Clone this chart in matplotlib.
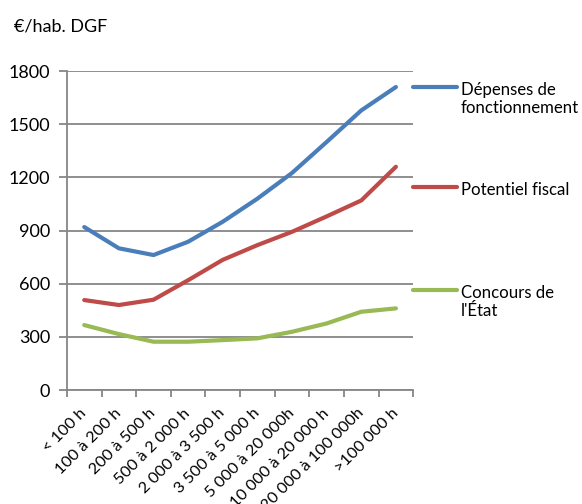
import matplotlib.pyplot as plt
from matplotlib.lines import Line2D
from matplotlib.transforms import ScaledTranslation

plt.rcParams["font.family"] = ["Lato", "DejaVu Sans"]

# Strates de population
strates = ["< 100 h", "100 à 200 h", "200 à 500 h", "500 à 2 000 h",
           "2 000 à 3 500 h", "3 500 à 5 000 h", "5 000 à 20 000h",
           "10 000 à 20 000 h", "20 000 à 100 000h", ">100 000 h"]

# Montants en €/hab. DGF
depenses = [920, 800, 762, 837, 950, 1080, 1225, 1400, 1578, 1710]
potentiel = [508, 480, 510, 620, 735, 818, 893, 980, 1070, 1260]
concours = [367, 316, 273, 273, 282, 292, 329, 376, 442, 461]

series = [
    ("Dépenses de\nfonctionnement", depenses, "#4A7EBB"),
    ("Potentiel fiscal", potentiel, "#BE4B48"),
    ("Concours de\nl'État", concours, "#98B954"),
]

grid_col = "#868686"

fig = plt.figure(figsize=(5.82, 5.04), dpi=100)
ax = fig.add_axes([0.115, 0.226, 0.595, 0.633])

x = range(len(strates))
for label, vals, col in series:
    ax.plot(x, vals, color=col, lw=3, solid_capstyle="round")

ax.set_xlim(-0.5, len(strates) - 0.5)
ax.set_ylim(0, 1800)
ax.set_yticks(range(0, 1801, 300))
ax.yaxis.grid(True, color=grid_col, lw=1.3)
ax.set_axisbelow(True)

ax.set_xticks(list(x))
ax.set_xticklabels(strates, rotation=45, ha="right", va="center",
                   rotation_mode="anchor", fontsize=11.7)
shift = ScaledTranslation(3 / 100, 0, fig.dpi_scale_trans)
for lab in ax.get_xticklabels():
    lab.set_transform(lab.get_transform() + shift)
ax.set_xticks([i - 0.5 for i in range(len(strates) + 1)], minor=True)
ax.tick_params(axis="x", which="major", length=0, pad=15)
ax.tick_params(axis="x", which="minor", length=5, color=grid_col, width=1.3)
ax.tick_params(axis="y", length=6, color=grid_col, width=1.3, labelsize=13, pad=6)

for s in ["top", "right"]:
    ax.spines[s].set_visible(False)
for s in ["left", "bottom"]:
    ax.spines[s].set_color(grid_col)
    ax.spines[s].set_linewidth(1.3)

fig.text(14 / 582, 1 - 27 / 504, "€/hab. DGF", fontsize=13, va="center", ha="left")

# Légende à droite du graphique
leg_y = [87, 187, 290]
for (label, vals, col), py in zip(series, leg_y):
    yf = 1 - py / 504
    fig.add_artist(Line2D([413 / 582, 457 / 582], [yf, yf], color=col, lw=3,
                          solid_capstyle="round", transform=fig.transFigure))
    fig.text(461 / 582, yf + 0.010, label, fontsize=12.1, va="top", ha="left",
             linespacing=1.15)

fig.savefig("out.png", dpi=100)
